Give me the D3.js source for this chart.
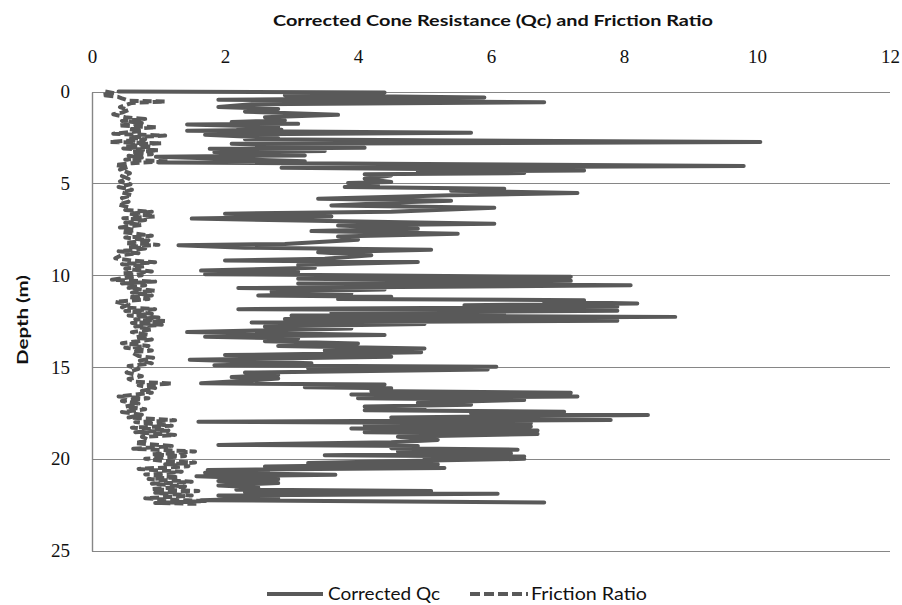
<!DOCTYPE html>
<html>
<head>
<meta charset="utf-8">
<script src="https://cdn.jsdelivr.net/npm/d3@7"></script>
<style>
  html, body { margin: 0; padding: 0; background: #fff; }
  svg { display: block; }
</style>
</head>
<body>
<svg id="chart" width="902" height="605"></svg>
<script>
// CPT sounding: corrected cone resistance and friction ratio against depth
const xTicks = [0, 2, 4, 6, 8, 10, 12];
const depthTicks = [0, 5, 10, 15, 20, 25];

const qcDepth = [0.00,0.05,0.20,0.32,0.45,0.58,0.70,0.85,0.95,1.10,1.27,1.40,1.58,1.66,1.76,1.80,1.92,2.00,2.08,2.14,
  2.25,2.35,2.54,2.60,2.75,2.85,3.06,3.12,3.24,3.30,3.48,3.55,3.80,3.86,4.06,4.15,4.30,4.36,4.44,4.50,
  4.57,4.75,4.93,4.98,5.10,5.20,5.29,5.40,5.53,5.65,5.84,5.95,6.02,6.20,6.33,6.55,6.65,6.80,6.92,7.05,
  7.20,7.30,7.47,7.60,7.74,7.90,8.07,8.30,8.37,8.50,8.61,8.75,8.92,9.10,9.20,9.28,9.45,9.60,9.75,9.82,
  9.95,10.09,10.20,10.31,10.45,10.55,10.70,10.78,10.90,11.00,11.10,11.18,11.30,11.36,11.45,11.54,11.64,11.72,11.85,11.94,
  12.05,12.15,12.20,12.27,12.38,12.48,12.58,12.66,12.80,12.90,13.10,13.26,13.35,13.45,13.60,13.72,13.85,13.99,14.10,14.20,
  14.35,14.44,14.60,14.71,14.80,14.90,14.98,15.08,15.13,15.30,15.44,15.55,15.62,15.75,15.89,15.95,16.10,16.16,16.30,16.40,
  16.50,16.61,16.70,16.79,16.95,17.05,17.15,17.25,17.35,17.43,17.52,17.61,17.75,17.88,17.98,18.06,18.15,18.24,18.35,18.46,
  18.55,18.64,18.80,18.97,19.10,19.24,19.30,19.42,19.50,19.60,19.70,19.80,19.87,19.95,20.00,20.10,20.23,20.30,20.42,20.50,
  20.60,20.65,20.75,20.87,20.95,21.10,21.20,21.32,21.45,21.55,21.68,21.75,21.82,21.90,22.00,22.14,22.25,22.37];
const qcValue = [0.40,4.40,2.90,5.90,1.90,6.80,2.40,1.90,2.80,2.30,3.70,2.60,2.90,2.10,3.10,1.43,2.80,2.20,2.85,1.43,
  5.70,1.70,2.80,2.30,10.05,2.10,4.10,1.77,3.50,1.84,3.20,0.96,3.20,1.00,9.80,2.85,7.40,4.90,6.50,4.10,
  4.50,4.10,4.50,3.85,4.30,3.80,6.20,5.40,7.30,5.40,3.40,5.40,4.80,3.60,6.05,4.50,2.00,3.60,1.50,3.55,
  6.05,3.70,4.90,3.30,5.50,3.70,4.00,2.90,1.30,2.30,5.10,3.40,4.20,3.50,2.00,4.90,3.10,3.35,1.64,3.10,
  1.70,7.20,3.10,7.20,3.10,8.10,2.20,4.40,2.70,3.90,2.50,4.50,3.70,7.40,6.80,8.20,5.60,7.90,2.20,7.90,
  3.60,6.20,3.00,8.77,2.90,7.90,2.40,5.00,2.60,3.90,1.43,4.40,1.70,3.10,2.60,4.00,2.80,5.00,3.50,4.95,
  2.00,4.50,1.47,2.50,3.30,1.84,6.08,3.25,5.95,2.30,2.80,2.10,2.80,2.30,1.64,4.40,3.20,4.50,4.20,7.20,
  3.90,7.30,4.00,6.50,4.90,5.70,4.10,5.00,4.10,7.10,5.70,8.36,4.50,7.80,1.60,6.60,4.10,6.60,3.90,6.70,
  4.10,6.70,4.60,5.20,4.50,1.90,4.90,4.50,6.40,4.60,6.30,3.50,6.50,5.00,6.50,4.90,3.25,5.20,2.60,5.30,
  1.74,2.65,1.70,3.66,1.57,2.80,1.90,2.80,1.90,2.50,2.17,5.10,2.30,6.10,1.90,2.80,1.64,6.80];

const frDepth = [0.00,0.10,0.19,0.30,0.37,0.50,0.55,0.62,0.75,0.85,1.00,1.15,1.24,1.40,1.50,1.60,1.72,1.85,1.95,2.05,
  2.15,2.30,2.40,2.50,2.60,2.75,2.82,2.90,3.00,3.10,3.20,3.30,3.42,3.50,3.60,3.72,3.80,3.90,4.00,4.10,
  4.25,4.45,4.60,4.75,4.90,5.05,5.20,5.35,5.50,5.65,5.80,6.00,6.15,6.30,6.45,6.55,6.65,6.80,6.90,7.00,
  7.15,7.27,7.40,7.55,7.65,7.85,7.95,8.10,8.25,8.35,8.45,8.55,8.70,8.80,8.90,9.08,9.20,9.30,9.40,9.50,
  9.65,9.80,9.90,10.00,10.15,10.25,10.35,10.45,10.55,10.70,10.85,10.95,11.10,11.20,11.30,11.45,11.60,11.75,11.85,11.95,
  12.10,12.20,12.30,12.40,12.50,12.60,12.70,12.80,12.95,13.10,13.25,13.40,13.50,13.70,13.85,13.95,14.10,14.20,14.40,14.50,
  14.65,14.80,14.95,15.10,15.30,15.50,15.65,15.80,15.90,16.00,16.15,16.30,16.40,16.60,16.70,16.85,17.00,17.15,17.30,17.45,
  17.60,17.75,17.90,18.00,18.20,18.30,18.45,18.55,18.70,18.80,18.95,19.15,19.30,19.45,19.60,19.75,19.85,20.00,20.10,20.20,
  20.30,20.40,20.55,20.70,20.85,21.00,21.10,21.25,21.35,21.50,21.65,21.75,21.85,22.00,22.15,22.30,22.40,22.45];
const frValue = [0.20,0.35,0.15,0.40,0.45,0.55,1.10,0.60,0.50,0.42,0.55,0.45,0.32,0.50,0.80,0.45,0.75,0.40,0.97,0.55,
  0.75,0.32,1.10,0.55,0.80,0.27,1.05,0.50,0.90,0.47,1.00,0.60,0.90,0.55,0.75,0.50,1.15,0.60,0.35,0.55,
  0.42,0.57,0.45,0.55,0.42,0.58,0.40,0.60,0.45,0.60,0.45,0.55,0.40,0.55,0.50,0.90,0.55,0.95,0.47,0.80,
  0.50,0.75,0.42,0.65,0.45,0.90,0.50,0.85,0.50,1.00,0.55,0.80,0.40,0.70,0.45,0.35,0.60,0.95,0.45,0.80,
  0.50,0.90,0.45,0.75,0.50,0.30,0.95,0.45,0.80,0.55,0.95,0.60,0.90,0.55,0.85,0.35,0.55,0.45,0.95,0.50,
  0.90,0.55,1.00,0.65,1.10,0.60,1.05,0.65,0.90,0.60,0.85,0.65,0.90,0.45,0.85,0.50,0.90,0.60,0.70,0.92,
  0.72,0.90,0.55,0.70,0.52,0.75,0.55,0.65,1.20,0.70,0.95,0.75,0.90,0.40,0.85,0.45,0.70,0.50,0.80,0.45,
  0.75,0.55,1.25,0.65,1.20,0.60,1.15,0.65,1.25,0.75,0.85,0.65,1.20,0.62,1.55,0.90,1.40,0.80,1.05,1.55,
  1.10,1.45,0.70,1.35,0.80,1.30,0.85,1.50,0.90,1.40,0.90,1.60,0.95,1.50,0.80,1.70,0.95,1.60];

const seriesNames = ["Corrected Qc", "Friction Ratio"];
const chartTitle = "Corrected Cone Resistance (Qc) and Friction Ratio";
const depthLabel = "Depth (m)";

const svg = d3.select("#chart");
const plotLeft = 92, plotRight = 890, plotTop = 91.5, plotBottom = 550.7;
const lineColor = "#595959";
const gridColor = "#868686";

const x = d3.scaleLinear().domain([0, 12]).range([plotLeft, plotRight]);
const y = d3.scaleLinear().domain([0, 25]).range([plotTop, plotBottom]);

// horizontal gridlines (0 and 25 act as the frame top and bottom)
svg.append("g").selectAll("line").data(depthTicks).join("line")
  .attr("x1", plotLeft).attr("x2", plotRight)
  .attr("y1", d => Math.round(y(d)) + 0.5).attr("y2", d => Math.round(y(d)) + 0.5)
  .attr("stroke", gridColor).attr("stroke-width", 1.2);

// left axis line
svg.append("line")
  .attr("x1", plotLeft + 0.5).attr("x2", plotLeft + 0.5)
  .attr("y1", Math.round(plotTop) + 0.5).attr("y2", Math.round(plotBottom) + 0.5)
  .attr("stroke", gridColor).attr("stroke-width", 1.4);

// top axis labels
const xAxis = d3.axisTop(x).tickValues(xTicks).tickSize(0).tickPadding(0);
const gx = svg.append("g").attr("transform", "translate(0,63)").call(xAxis);
gx.select(".domain").remove();
gx.selectAll("text")
  .attr("fill", "#111")
  .attr("font-family", "'Liberation Serif', serif")
  .attr("font-size", 19)
  .attr("dy", 0);

// left axis labels
const yAxis = d3.axisLeft(y).tickValues(depthTicks).tickSize(0).tickPadding(0);
const gy = svg.append("g").attr("transform", "translate(70,0)").call(yAxis);
gy.select(".domain").remove();
gy.selectAll("text")
  .attr("fill", "#111")
  .attr("font-family", "'Liberation Serif', serif")
  .attr("font-size", 19)
  .attr("dy", "0.32em");

// series
const qcData = qcDepth.map((d, i) => [qcValue[i], d]);
const frData = frDepth.map((d, i) => [frValue[i], d]);
const line = d3.line().x(d => x(d[0])).y(d => y(d[1]));

svg.append("path").datum(frData)
  .attr("d", line)
  .attr("fill", "none").attr("stroke", lineColor)
  .attr("stroke-width", 4)
  .attr("stroke-dasharray", "9,4")
  .attr("stroke-linejoin", "round");

svg.append("path").datum(qcData)
  .attr("d", line)
  .attr("fill", "none").attr("stroke", lineColor)
  .attr("stroke-width", 4)
  .attr("stroke-linejoin", "round")
  .attr("stroke-linecap", "round");

// title
svg.append("text")
  .attr("x", 493).attr("y", 26)
  .attr("text-anchor", "middle")
  .attr("font-family", "Lato, 'Open Sans', sans-serif")
  .attr("font-weight", "bold")
  .attr("font-size", 16)
  .attr("fill", "#111")
  .attr("textLength", 440).attr("lengthAdjust", "spacingAndGlyphs")
  .text(chartTitle);

// depth axis title
svg.append("text")
  .attr("transform", "translate(28,320) rotate(-90)")
  .attr("text-anchor", "middle")
  .attr("font-family", "Lato, 'Open Sans', sans-serif")
  .attr("font-weight", "bold")
  .attr("font-size", 16)
  .attr("fill", "#111")
  .attr("textLength", 90).attr("lengthAdjust", "spacingAndGlyphs")
  .text(depthLabel);

// legend
const legend = svg.append("g");
const legendItems = [
  { name: seriesNames[0], x1: 267, x2: 323, tx: 328, tw: 112, dash: null },
  { name: seriesNames[1], x1: 470, x2: 528, tx: 531, tw: 116, dash: "10,4" }
];
legendItems.forEach(it => {
  legend.append("line")
    .attr("x1", it.x1).attr("x2", it.x2).attr("y1", 594).attr("y2", 594)
    .attr("stroke", lineColor).attr("stroke-width", 4)
    .attr("stroke-dasharray", it.dash);
  legend.append("text")
    .attr("x", it.tx).attr("y", 600)
    .attr("font-family", "Lato, 'Open Sans', sans-serif")
    .attr("font-size", 17)
    .attr("fill", "#111")
    .attr("textLength", it.tw).attr("lengthAdjust", "spacingAndGlyphs")
    .text(it.name);
});
</script>
</body>
</html>
